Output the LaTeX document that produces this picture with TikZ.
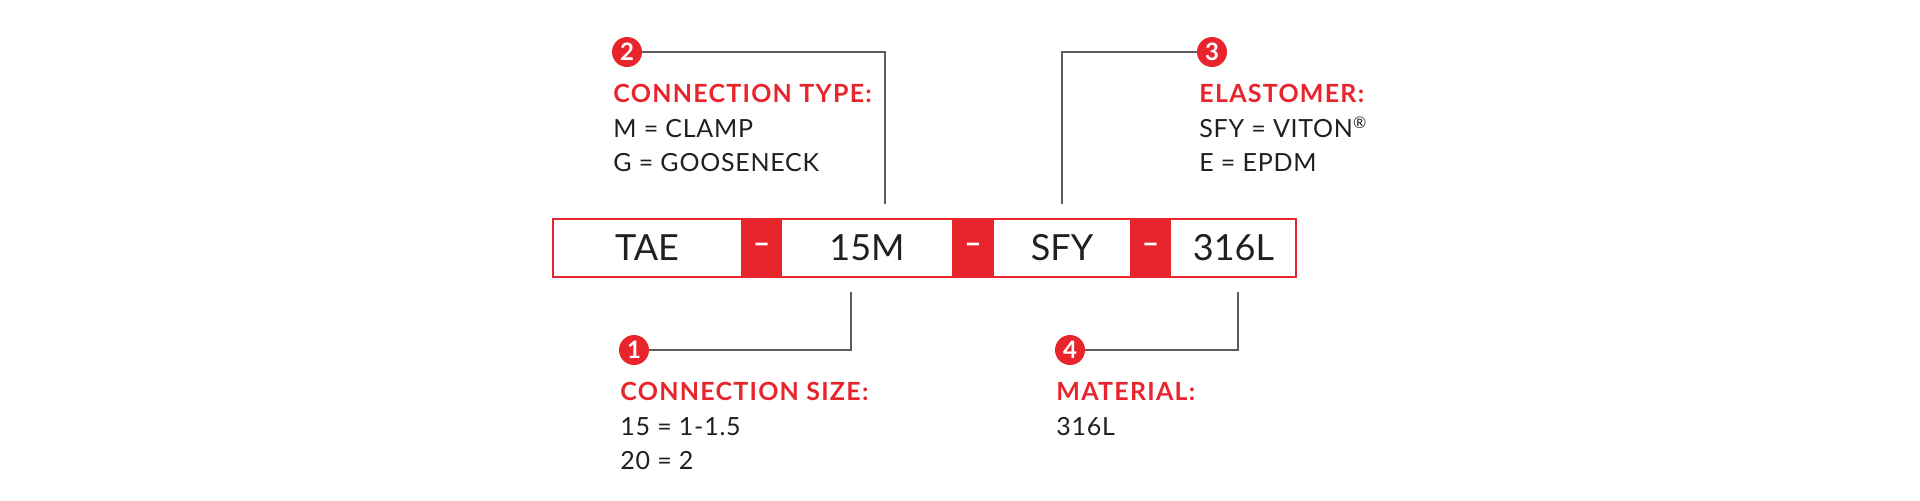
\documentclass[tikz,border=0pt]{standalone}
\usepackage{fontspec}
\setmainfont{Lato}
\newfontfamily\headfont[LetterSpace=5]{Lato}
\newfontfamily\entryfont[LetterSpace=3]{Lato}
\usetikzlibrary{positioning}
\definecolor{codered}{HTML}{E8252C}
\definecolor{leadgray}{HTML}{5C5C5C}
\definecolor{inkblack}{HTML}{231F20}

\begin{document}
\begin{tikzpicture}[x=0.5pt, y=-0.5pt, node distance=0pt]
        \tikzstyle{segment}=[rectangle, fill=white, text=inkblack, minimum height=29pt, inner sep=0pt, outer sep=0pt, font=\fontsize{18}{18}\selectfont];
        \tikzstyle{sepbox}=[rectangle, fill=codered, text=white, minimum width=20.5pt, minimum height=29pt, inner sep=0pt, outer sep=0pt, font=\fontsize{15}{15}\selectfont\bfseries];
        \tikzstyle{badge}=[circle, fill=codered, text=white, minimum size=15pt, inner sep=0pt, font=\fontsize{12}{12}\selectfont\bfseries];
        \tikzstyle{heading}=[anchor=base west, inner sep=0pt, text=codered, font=\headfont\fontsize{12.5}{12.5}\selectfont\bfseries];
        \tikzstyle{entry}=[anchor=base west, inner sep=0pt, text=inkblack, font=\entryfont\fontsize{12.5}{12.5}\selectfont];
        \tikzstyle{leader}=[draw=leadgray, line width=1pt];

        \useasboundingbox (0,0) rectangle (1920,500);

        % part number strip
        \node[segment, minimum width=94pt, anchor=west] (tae) at (553,248) {TAE};
        \node[sepbox, right=of tae] (dash1) {--};
        \node[segment, minimum width=85pt, right=of dash1] (size) {15M};
        \node[sepbox, right=of size, minimum width=21pt] (dash2) {--};
        \node[segment, minimum width=68pt, right=of dash2] (elast) {SFY};
        \node[sepbox, right=of elast] (dash3) {--};
        \node[segment, minimum width=62.5pt, right=of dash3] (mat) {316L};
        \draw[codered, line width=1pt] (tae.north west) rectangle (mat.south east);

        % callouts above
        \node[badge] (b2) at (627,52) {2};
        \node[heading] (type) at (613,102) {CONNECTION TYPE:};
        \node[entry] (clamp) at (613,137) {M = CLAMP};
        \node[entry] (goose) at (613,171) {G = GOOSENECK};

        \node[badge] (b3) at (1212,52) {3};
        \node[heading] (elastomer) at (1199,102) {ELASTOMER:};
        \node[entry] (viton) at (1199,137) {SFY = VITON\raisebox{0.7ex}{\fontsize{8}{8}\selectfont ®}};
        \node[entry] (epdm) at (1199,171) {E = EPDM};

        % callouts below
        \node[badge] (b1) at (634,350) {1};
        \node[heading] (consize) at (620,400) {CONNECTION SIZE:};
        \node[entry] (fifteen) at (620,435) {15 = 1-1.5};
        \node[entry] (twenty) at (620,469) {20 = 2};

        \node[badge] (b4) at (1070,350) {4};
        \node[heading] (material) at (1056,400) {MATERIAL:};
        \node[entry] (steel) at (1056,435) {316L};

        % leader lines
        \coordinate (t2) at (885,204);
        \coordinate (t3) at (1062,204);
        \coordinate (t1) at (851,292);
        \coordinate (t4) at (1238,292);
        \draw[leader] (b2.east) -| (t2);
        \draw[leader] (b3.west) -| (t3);
        \draw[leader] (b1.east) -| (t1);
        \draw[leader] (b4.east) -| (t4);
    \end{tikzpicture}
\end{document}
